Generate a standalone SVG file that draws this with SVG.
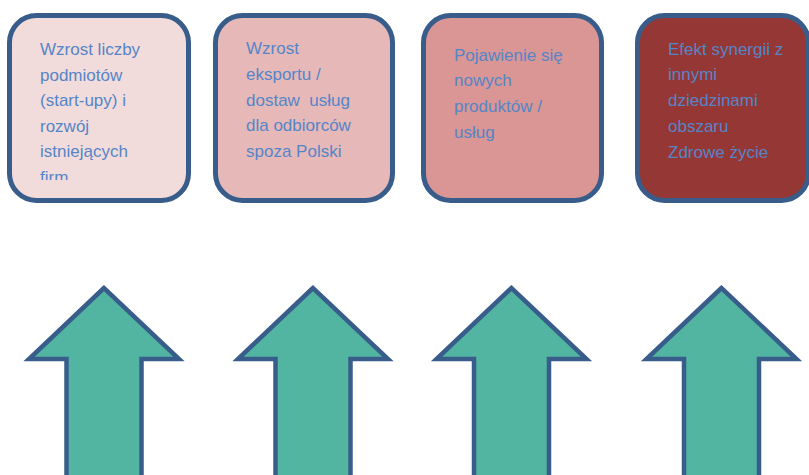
<svg xmlns="http://www.w3.org/2000/svg" width="809" height="475" viewBox="0 0 809 475">
  <style>
    .box { stroke: #385D8A; stroke-width: 5; }
    .lbl { font-family: "Liberation Sans", Arial, sans-serif; font-size: 17px; fill: #5585C8; }
    .arrow { fill: #52B5A1; stroke: #385D8A; stroke-width: 4.5; stroke-linejoin: miter; }
  </style>
  <defs>
    <clipPath id="clip1"><rect x="12" y="18" width="174" height="162"/></clipPath>
  </defs>
  <rect width="809" height="475" fill="#FFFFFF"/>

  <g id="node1">
    <rect class="box" x="9.5" y="15.5" width="179" height="185" rx="27" fill="#F2DCDB"/>
    <g clip-path="url(#clip1)">
      <text class="lbl" x="40" y="55">Wzrost liczby</text>
      <text class="lbl" x="40" y="80.5">podmiotów</text>
      <text class="lbl" x="40" y="106">(start-upy) i</text>
      <text class="lbl" x="40" y="131.5">rozwój</text>
      <text class="lbl" x="40" y="157">istniejących</text>
      <text class="lbl" x="40" y="182.5">firm</text>
    </g>
  </g>

  <g id="node2">
    <rect class="box" x="215.5" y="15.5" width="177" height="185" rx="27" fill="#E6B9B8"/>
    <text class="lbl" x="246" y="54">Wzrost</text>
    <text class="lbl" x="246" y="80">eksportu /</text>
    <text class="lbl" x="246" y="105.5" xml:space="preserve">dostaw  usług</text>
    <text class="lbl" x="246" y="131">dla odbiorców</text>
    <text class="lbl" x="246" y="157">spoza Polski</text>
  </g>

  <g id="node3">
    <rect class="box" x="423.5" y="15.5" width="178" height="185" rx="27" fill="#D99694"/>
    <text class="lbl" x="454" y="60.5">Pojawienie się</text>
    <text class="lbl" x="454" y="86">nowych</text>
    <text class="lbl" x="454" y="112">produktów /</text>
    <text class="lbl" x="454" y="137.5">usług</text>
  </g>

  <g id="node4">
    <rect class="box" x="637.5" y="15.5" width="171" height="185" rx="27" fill="#953735"/>
    <text class="lbl" x="668" y="54.5">Efekt synergii z</text>
    <text class="lbl" x="668" y="80">innymi</text>
    <text class="lbl" x="668" y="106">dziedzinami</text>
    <text class="lbl" x="668" y="131.5">obszaru</text>
    <text class="lbl" x="668" y="157.5">Zdrowe życie</text>
  </g>

  <g id="connectors">
    <polygon class="arrow" points="104,288 29,359 66.5,359 66.5,480 141.5,480 141.5,359 179,359"/>
    <polygon class="arrow" points="313,288 238,359 275.5,359 275.5,480 350.5,480 350.5,359 388,359"/>
    <polygon class="arrow" points="511.5,288 436.5,359 474,359 474,480 549,480 549,359 586.5,359"/>
    <polygon class="arrow" points="721.5,288 646.5,359 684,359 684,480 759,480 759,359 796.5,359"/>
  </g>
</svg>
